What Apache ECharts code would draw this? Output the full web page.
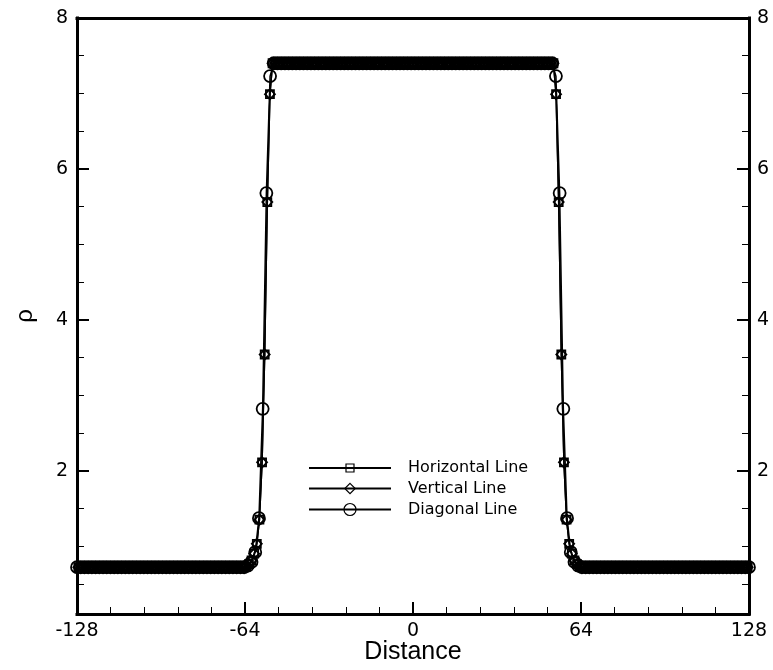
<!DOCTYPE html>
<html>
<head>
<meta charset="utf-8">
<title>Density profiles</title>
<script src="https://cdn.jsdelivr.net/npm/echarts@6/dist/echarts.min.js"></script>
<style>
  html, body { margin: 0; padding: 0; background: #fff; }
  #chart { width: 773px; height: 670px; }
</style>
</head>
<body>
<div id="chart"></div>
<script>
// Density along three cuts through the drop, plotted against distance from its centre.
const seriesNames = ['Horizontal Line', 'Vertical Line', 'Diagonal Line'];

// Horizontal / vertical cuts: cell centres at |x| = 0.5, 1.5, ... 127.5
const hvCellCount = 128;
const hvRampStart = 54;          // first cell below the inner plateau (|x| = 54.5)
const horizontalInner = 7.40;
const horizontalOuter = 0.72;
const horizontalRamp = [6.99, 5.56, 3.54, 2.11, 1.35, 1.03, 0.90, 0.81, 0.76, 0.73];
const verticalInner = 7.40;
const verticalOuter = 0.72;
const verticalRamp = [6.99, 5.56, 3.54, 2.11, 1.35, 1.03, 0.90, 0.81, 0.76, 0.73];

// Diagonal cut: cell centres at |s| = √2·(k + 0.5)
const diagCellCount = 91;
const diagRampStart = 38;        // |s| = 54.45
const diagonalInner = 7.40;
const diagonalOuter = 0.72;
const diagonalRamp = [7.23, 5.68, 2.82, 1.37, 0.92, 0.79, 0.74];

// Axis ticks
const xTicks = [-128, -64, 0, 64, 128];
const yMajorTicks = [2, 4, 6, 8];
const yMinorTicks = [0.5, 1, 1.5, 2.5, 3, 3.5, 4.5, 5, 5.5, 6.5, 7, 7.5];

// Mirror a radial profile onto both sides of the centre.
function buildProfile(step, count, rampStart, ramp, inner, outer) {
  const pts = [];
  for (let k = 0; k < count; k++) {
    const r = step * (k + 0.5);
    let v;
    if (k < rampStart) v = inner;
    else if (k - rampStart < ramp.length) v = ramp[k - rampStart];
    else v = outer;
    pts.push([r, v], [-r, v]);
  }
  pts.sort((a, b) => a[0] - b[0]);
  return pts;
}

const horizontalData = buildProfile(1, hvCellCount, hvRampStart, horizontalRamp, horizontalInner, horizontalOuter);
const verticalData = buildProfile(1, hvCellCount, hvRampStart, verticalRamp, verticalInner, verticalOuter);
const diagonalData = buildProfile(Math.SQRT2, diagCellCount, diagRampStart, diagonalRamp, diagonalInner, diagonalOuter);

const tickFont = 'DejaVu Sans';
const frame = { color: '#000', width: 3, cap: 'square' };

function lineSeries(name, data, symbol, size) {
  return {
    name, type: 'line', data,
    xAxisIndex: 0, yAxisIndex: 0,
    symbol, symbolSize: size,
    showSymbol: true,
    showAllSymbol: true,
    clip: true,
    lineStyle: { color: '#000', width: 1.5 },
    itemStyle: { color: 'rgba(0,0,0,0)', borderColor: '#000', borderWidth: 1.8 },
    emphasis: { disabled: true },
    z: 3
  };
}

function legendRow(name, centerY, height) {
  return {
    data: [name],
    left: 308,
    top: centerY - height / 2,
    itemWidth: 82,
    itemHeight: height,
    padding: 0,
    selectedMode: false,
    itemStyle: { borderWidth: 1.2 },
    textStyle: { fontFamily: tickFont, fontSize: 16, color: '#000', padding: [0, 0, 0, 12] }
  };
}

const minorAxis = (position) => ({
  type: 'value', position, min: 0.1, max: 8,
  axisLine: { show: false, onZero: false },
  axisTick: { show: true, inside: true, length: 7, customValues: yMinorTicks, lineStyle: { color: '#000', width: 1 } },
  axisLabel: { show: false }, splitLine: { show: false }
});

const majorAxis = (position, margin) => ({
  type: 'value', position, min: 0.1, max: 8,
  axisLine: { show: true, onZero: false, lineStyle: frame },
  axisTick: { show: true, inside: true, length: 12, customValues: yMajorTicks, lineStyle: { color: '#000', width: 2 } },
  axisLabel: { customValues: yMajorTicks, fontFamily: tickFont, fontSize: 19, color: '#000', margin },
  splitLine: { show: false }
});

const chart = echarts.init(document.getElementById('chart'), null, { renderer: 'canvas' });
chart.setOption({
  animation: false,
  backgroundColor: '#fff',
  grid: { left: 77, right: 24, top: 18, bottom: 56, containLabel: false, outerBoundsMode: 'none' },
  legend: [
    legendRow(seriesNames[0], 465, 10),
    legendRow(seriesNames[1], 487, 13),
    legendRow(seriesNames[2], 509, 15)
  ],
  xAxis: [
    {
      type: 'value', position: 'bottom', min: xTicks[0], max: xTicks[xTicks.length - 1], interval: 64,
      axisLine: { show: true, onZero: false, lineStyle: frame },
      axisTick: { show: true, inside: true, length: 12, lineStyle: { color: '#000', width: 2 } },
      minorTick: { show: true, splitNumber: 5, length: 7, lineStyle: { color: '#000', width: 1 } },
      axisLabel: { fontFamily: tickFont, fontSize: 19, color: '#000', margin: 8 },
      splitLine: { show: false },
      name: 'Distance', nameLocation: 'middle', nameGap: 26, nameMoveOverlap: false,
      nameTextStyle: { fontFamily: 'Liberation Sans', fontSize: 25, color: '#000' }
    },
    {
      type: 'value', position: 'top', min: -128, max: 128, interval: 64,
      axisLine: { show: true, onZero: false, lineStyle: frame },
      axisTick: { show: false }, axisLabel: { show: false }, splitLine: { show: false }
    }
  ],
  yAxis: [
    Object.assign(majorAxis('left', 9), {
      name: 'ρ', nameLocation: 'middle', nameGap: 40,
      nameTextStyle: { fontFamily: 'Liberation Sans', fontSize: 24, color: '#000' }
    }),
    minorAxis('left'),
    majorAxis('right', 8),
    minorAxis('right')
  ],
  series: [
    lineSeries(seriesNames[0], horizontalData, 'rect', 8),
    lineSeries(seriesNames[1], verticalData, 'diamond', 10),
    lineSeries(seriesNames[2], diagonalData, 'circle', 12)
  ]
});
</script>
</body>
</html>
